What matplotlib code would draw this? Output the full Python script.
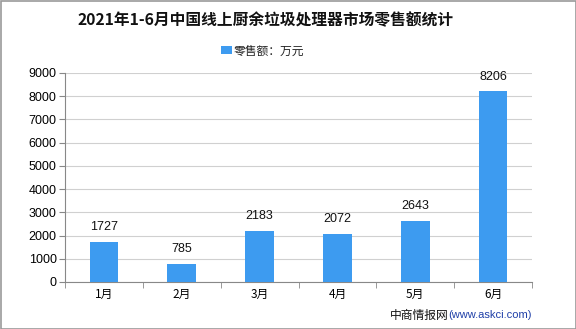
import matplotlib
matplotlib.use("Agg")
import matplotlib.pyplot as plt
from matplotlib.patches import Rectangle

plt.rcParams['font.family'] = ['Noto Sans CJK SC', 'DejaVu Sans']

categories = ["1月", "2月", "3月", "4月", "5月", "6月"]
values = [1727, 785, 2183, 2072, 2643, 8206]
yticks = [0, 1000, 2000, 3000, 4000, 5000, 6000, 7000, 8000, 9000]
title = "2021年1-6月中国线上厨余垃圾处理器市场零售额统计"
legend_label = "零售额：万元"

W, H = 576, 329
fig = plt.figure(figsize=(W/100, H/100), dpi=100)
ax = fig.add_axes([65/W, 1-282/H, (532-65)/W, (282-73)/H])

bar_color = "#3D9BF0"
num_font = ['Liberation Sans', 'DejaVu Sans']
x = list(range(len(categories)))
ax.bar(x, values, width=0.37, color=bar_color, label=legend_label, zorder=3)
for xi, v in zip(x, values):
    ax.text(xi, v + 380, str(v), ha="center", va="bottom", fontsize=9, color="#111111",
            family=num_font)

ax.set_xlim(-0.5, len(categories)-0.5)
ax.set_ylim(0, 9000)
ax.set_yticks(yticks)
ax.set_yticklabels([str(t) for t in yticks], fontsize=9, family=num_font)
ax.set_xticks(x)
ax.set_xticklabels(categories, fontsize=8.5)
ax.yaxis.grid(True, color="#D0D0D0", linewidth=0.8, zorder=0)
ax.set_axisbelow(True)
for s in ["top", "right"]:
    ax.spines[s].set_visible(False)
ax.spines["left"].set_color("#888888")
ax.spines["bottom"].set_color("#888888")
ax.tick_params(axis="y", length=4, color="#888888", pad=2)
ax.tick_params(axis="x", length=4, color="#888888", pad=4)
ax.set_xticks([i - 0.5 for i in range(len(categories)+1)], minor=True)
ax.tick_params(axis="x", which="major", length=0)
ax.tick_params(axis="x", which="minor", length=4, color="#888888")

fig.text(77/W, 1-20/H, title, ha="left", va="center", fontsize=11.3, fontweight="bold", color="#111111")

# legend
fig.patches.append(Rectangle((221/W, 1-54/H), 11/W, 8/H, transform=fig.transFigure,
                             facecolor=bar_color, edgecolor="none"))
fig.text(234/W, 1-51/H, legend_label, ha="left", va="center", fontsize=8.5, color="#222222")

# footer
fig.text(390/W, 1-315/H, "中商情报网", ha="left", va="center", fontsize=8.5, color="#111111")
fig.text(448/W, 1-315/H, "(www.askci.com)", ha="left", va="center", fontsize=8, color="#1F3FA8",
         family=num_font)

# border
fig.patches.append(Rectangle((0.5/W, 0.5/H), 1-1/W, 1-1/H, transform=fig.transFigure,
                             facecolor="none", edgecolor="#999999", linewidth=1.2))

fig.savefig("out.png", dpi=100)
